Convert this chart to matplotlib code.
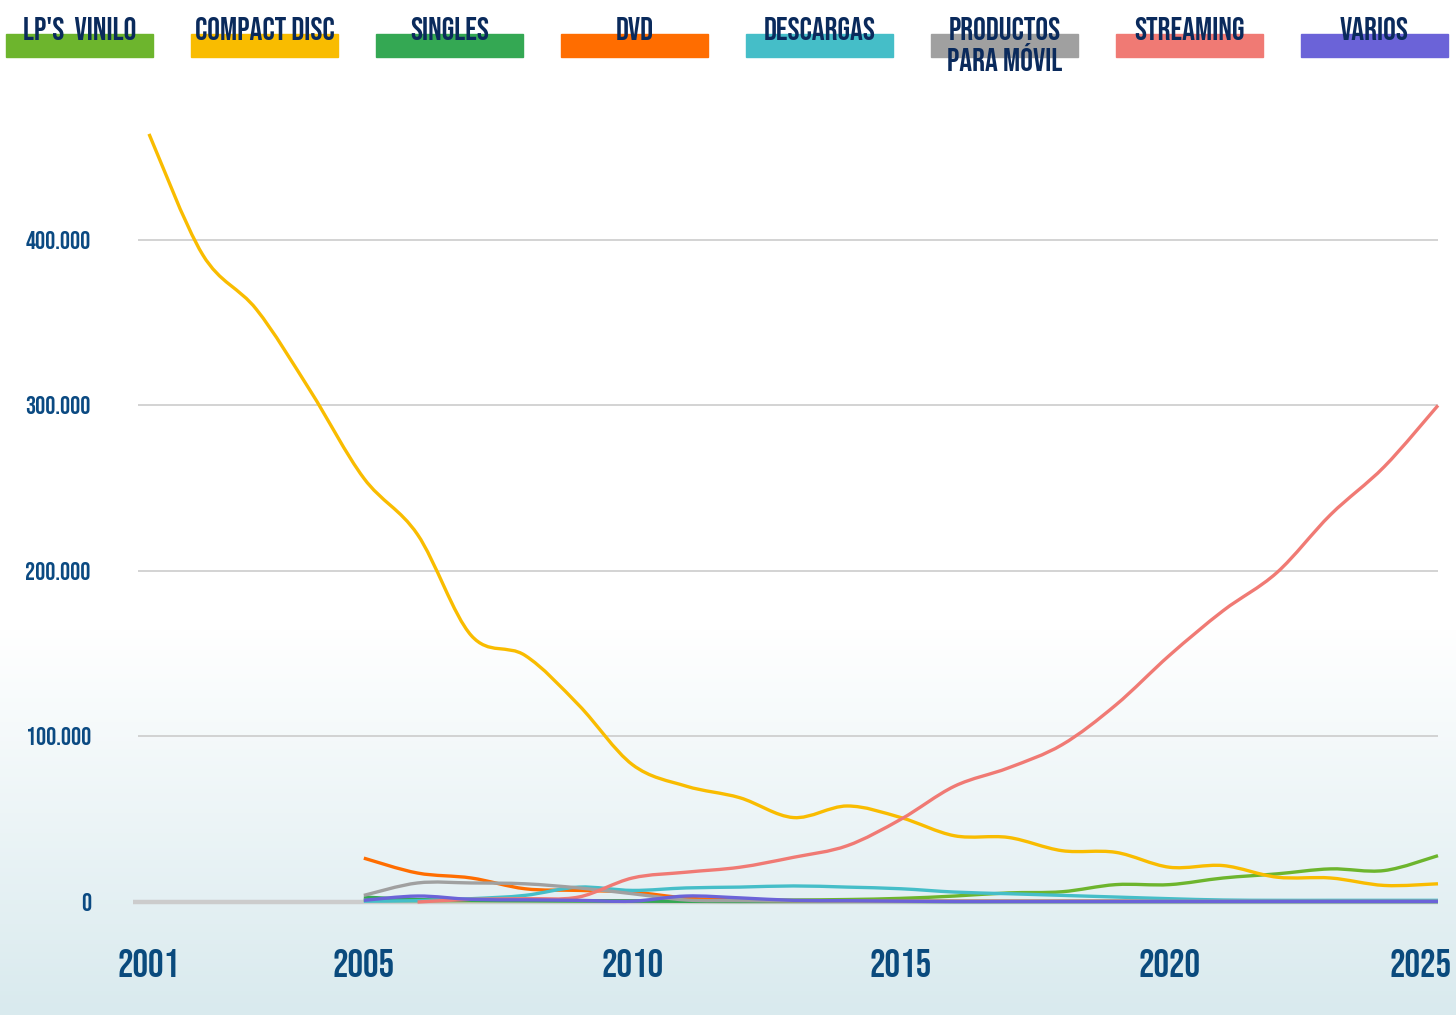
import numpy as np
import matplotlib
matplotlib.use("Agg")
import matplotlib.pyplot as plt
from matplotlib.path import Path
from matplotlib.patches import PathPatch, Rectangle
from matplotlib.transforms import ScaledTranslation

plt.rcParams['font.family'] = ['Bebas Neue', 'Oswald', 'DejaVu Sans']

# ventas (miles de unidades)
years = list(range(2001, 2026))
cd = [464, 391, 358, 309, 256, 222, 161, 149, 119, 83, 70, 63, 51, 58, 51,
      40, 39, 31, 30, 21, 22, 15, 14.5, 10, 11]
lp = [1, 0.8, 0.8, 0.8, 0.8, 0.8, 0.8, 1, 1.2, 1.5, 2.2, 3.6, 5.5, 6.2, 10.5,
      10.5, 14.5, 17, 20, 19, 28]
singles = [3, 1.5, 1, 0.8, 0.6, 0.5, 0.4, 0.3, 0.3, 0.3, 0.3, 0.2, 0.2, 0.2,
           0.2, 0.2, 0.2, 0.2, 0.2, 0.2, 0.2]
dvd = [26.5, 17.5, 14.5, 8, 7, 6, 2.4, 1.2, 0.8, 0.6, 0.5, 0.5, 0.5, 0.5, 0.5,
       0.4, 0.4, 0.4, 0.4, 0.4, 0.4]
descargas = [0.5, 0.8, 2, 4, 9, 7, 8.5, 9, 9.7, 9, 8, 6, 5, 4, 3, 2, 1.2, 1,
             1, 1, 1]
movil = [4, 11.5, 11.5, 11, 8.5, 5, 1.2, 0.8, 0.6, 0.5, 0.5, 0.5, 0.5, 0.5,
         0.5, 0.5, 0.5, 0.5, 0.5, 0.5, 0.5]
streaming = [0, 1.6, 2, 3, 14.5, 18, 21, 27, 34, 50, 70, 81, 95, 119, 149, 176,
             199, 234, 263, 300]
varios = [1, 3.6, 1.6, 1.3, 1, 0.5, 3.6, 2.5, 1, 0.8, 0.5, 0.3, 0.3, 0.3, 0.3,
          0.3, 0.3, 0.3, 0.3, 0.3, 0.3]

labels = ["LP'S  VINILO", "COMPACT DISC", "SINGLES", "DVD", "DESCARGAS",
          "PRODUCTOS\nPARA MÓVIL", "STREAMING", "VARIOS"]
colors = ['#6db52d', '#f9bc00', '#34a853', '#ff6d00', '#45bec8', '#a0a0a0',
          '#f07a74', '#6b63d8']
series = [(2005, lp), (2001, cd), (2005, singles), (2005, dvd),
          (2005, descargas), (2005, movil), (2006, streaming), (2005, varios)]


def smooth_path(xs, ys):
    # curva suave tipo catmull-rom con beziers cubicas
    pts = np.column_stack([xs, ys]).astype(float)
    n = len(pts)
    verts = [pts[0]]
    codes = [Path.MOVETO]
    for i in range(n - 1):
        p0 = pts[max(i - 1, 0)]
        p1 = pts[i]
        p2 = pts[i + 1]
        p3 = pts[min(i + 2, n - 1)]
        c1 = p1 + (p2 - p0) / 6.0
        c2 = p2 - (p3 - p1) / 6.0
        verts += [c1, c2, p2]
        codes += [Path.CURVE4] * 3
    return Path(verts, codes)


fig = plt.figure(figsize=(14.56, 10.15), dpi=100)

# fondo degradado (blanco arriba, azul claro abajo)
bg = fig.add_axes([0, 0, 1, 1], zorder=-10)
grad = np.linspace(0, 1, 256)
top = np.array([1.0, 1.0, 1.0])
bot = np.array([0xd9, 0xea, 0xee]) / 255.0
w = np.clip((grad - 0.62) / 0.38, 0, 1)
img = top[None, :] * (1 - w[:, None]) + bot[None, :] * w[:, None]
bg.imshow(img[:, None, :], aspect='auto', extent=[0, 1, 0, 1])
bg.axis('off')

ax = fig.add_axes([138 / 1456, 113 / 1015, 1300 / 1456, 778 / 1015])
ax.patch.set_alpha(0)
x0 = 2001 - 11 / 53.7
ax.set_xlim(x0, 2025)
ax.set_ylim(0, 470000)

for v in [100000, 200000, 300000, 400000]:
    ax.axhline(v, color='#cccccc', lw=1.2, zorder=1)
ax.plot([x0 - 5 / 53.7, 2025], [0, 0], color='#cccccc', lw=3.2,
        zorder=1.5, clip_on=False, solid_capstyle='butt')

for (start, vals), col in zip(series, colors):
    xs = np.arange(start, start + len(vals))
    ys = np.array(vals) * 1000
    patch = PathPatch(smooth_path(xs, ys), fill=False, edgecolor=col, lw=2.4,
                      zorder=3, clip_on=False, capstyle='butt')
    ax.add_patch(patch)

for s in ax.spines.values():
    s.set_visible(False)

ax.set_yticks([0, 100000, 200000, 300000, 400000])
ax.set_yticklabels(['0', '100.000', '200.000', '300.000', '400.000'])
ax.tick_params(axis='y', length=0, pad=34, labelsize=18, labelcolor='#0b4a82')

tick_years = [2001, 2005, 2010, 2015, 2020, 2025]
ax.set_xticks(tick_years)
ax.set_xticklabels([str(y) for y in tick_years])
ax.tick_params(axis='x', length=0, pad=34, labelsize=28, labelcolor='#0a4a7d')
last = ax.get_xticklabels()[-1]
last.set_horizontalalignment('right')
last.set_transform(last.get_transform() + ScaledTranslation(0.14, 0, fig.dpi_scale_trans))

# leyenda superior
for i, (lab, col) in enumerate(zip(labels, colors)):
    lx = (6 + i * 185) / 1456
    fig.patches.append(Rectangle((lx, 1 - 57 / 1015), 147 / 1456, 23 / 1015,
                                 transform=fig.transFigure, color=col, zorder=1))
    cx = lx + 73.5 / 1456
    lines = lab.split('\n')
    for j, txt in enumerate(lines):
        fig.text(cx, 1 - (28 + 29 * j) / 1015, txt, ha='center', va='center',
                 fontsize=23, color='#0a2a5c', zorder=2)

fig.savefig('out.png', dpi=100)
